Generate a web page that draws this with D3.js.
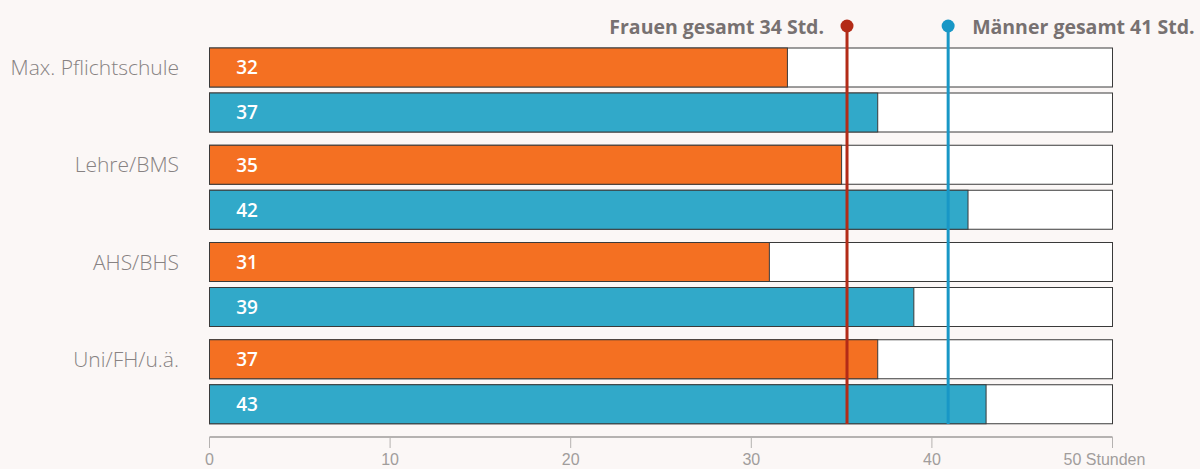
<!DOCTYPE html>
<html>
<head>
<meta charset="utf-8">
<script src="https://cdn.jsdelivr.net/npm/d3@7"></script>
<style>
  html, body { margin: 0; padding: 0; background: #fbf7f6; }
  svg { display: block; }
</style>
</head>
<body>
<svg id="chart" width="1200" height="469"></svg>
<script>
const categories = ["Max. Pflichtschule", "Lehre/BMS", "AHS/BHS", "Uni/FH/u.ä."];
const frauen = [32, 35, 31, 37];
const maenner = [37, 42, 39, 43];
const ticks = [0, 10, 20, 30, 40, 50];
const tickLabels = ["0", "10", "20", "30", "40", "50 Stunden"];
const totals = [
  {label: "Frauen gesamt 34 Std.", pos: 35.3, color: "#b32b17", side: "left"},
  {label: "Männer gesamt 41 Std.", pos: 40.9, color: "#1897c6", side: "right"}
];

const svg = d3.select("#chart");
const x = d3.scaleLinear().domain([0, 50]).range([209.5, 1112.5]);
const group = d3.scaleBand().domain(categories).range([46, 435]).paddingInner(0).paddingOuter(0);
const barH = 39;

const rows = [];
categories.forEach((c, i) => {
  rows.push({cat: c, sex: "f", value: frauen[i], y: group(c) + 2});
  rows.push({cat: c, sex: "m", value: maenner[i], y: group(c) + 47});
});

const g = svg.append("g");

// white background bars
g.selectAll("rect.bg").data(rows).enter().append("rect")
  .attr("class", "bg")
  .attr("x", x(0)).attr("y", d => d.y)
  .attr("width", x(50) - x(0)).attr("height", barH)
  .attr("fill", "#fff").attr("stroke", "#3a3a3a").attr("stroke-width", 1);

g.selectAll("rect.val").data(rows).enter().append("rect")
  .attr("class", "val")
  .attr("x", x(0)).attr("y", d => d.y)
  .attr("width", d => x(d.value) - x(0)).attr("height", barH)
  .attr("fill", d => d.sex === "f" ? "#f47022" : "#31a9c9")
  .attr("stroke", "#3a3a3a").attr("stroke-width", 1);

g.selectAll("text.val").data(rows).enter().append("text")
  .attr("class", "val")
  .attr("x", 247).attr("y", d => d.y + barH / 2)
  .attr("dy", "0.36em").attr("text-anchor", "middle")
  .attr("font-family", "'Open Sans', sans-serif").attr("font-weight", 600)
  .attr("font-size", 19).attr("fill", "#fff")
  .text(d => d.value);

// category labels
g.selectAll("text.cat").data(categories).enter().append("text")
  .attr("class", "cat")
  .attr("x", 179).attr("y", c => group(c) + 2 + barH / 2)
  .attr("dy", "0.36em").attr("text-anchor", "end")
  .attr("font-family", "'Open Sans', sans-serif").attr("font-weight", 300)
  .attr("font-size", 21).attr("fill", "#878282")
  .text(c => c);

// axis
const axisG = svg.append("g").attr("transform", "translate(0,437)");
axisG.append("line")
  .attr("x1", x(0)).attr("x2", x(50))
  .attr("stroke", "#b5b2b1").attr("stroke-width", 2);
axisG.selectAll("line.tick").data(ticks).enter().append("line")
  .attr("class", "tick")
  .attr("x1", d => x(d)).attr("x2", d => x(d))
  .attr("y1", 0).attr("y2", 11)
  .attr("stroke", "#b5b2b1").attr("stroke-width", 1);
axisG.selectAll("text.tick").data(ticks).enter().append("text")
  .attr("class", "tick")
  .attr("x", d => d === 50 ? x(d) - 8 : x(d)).attr("y", 28)
  .attr("text-anchor", "middle")
  .attr("font-family", "'Liberation Sans Narrow', sans-serif")
  .attr("font-size", 16).attr("fill", "#a19d9c")
  .text((d, i) => tickLabels[i]);

// total lines
const tg = svg.selectAll("g.total").data(totals).enter().append("g").attr("class", "total");
tg.append("line")
  .attr("x1", d => x(d.pos)).attr("x2", d => x(d.pos))
  .attr("y1", 27).attr("y2", 424)
  .attr("stroke", d => d.color).attr("stroke-width", 3);
tg.append("circle")
  .attr("cx", d => x(d.pos)).attr("cy", 26).attr("r", 6.5)
  .attr("fill", d => d.color);
tg.append("text")
  .attr("x", d => d.side === "left" ? x(d.pos) - 23 : x(d.pos) + 24)
  .attr("y", 27).attr("dy", "0.36em")
  .attr("text-anchor", d => d.side === "left" ? "end" : "start")
  .attr("font-family", "'Open Sans', sans-serif").attr("font-weight", 700)
  .attr("font-size", 19.5).attr("fill", "#777171")
  .text(d => d.label);
</script>
</body>
</html>
